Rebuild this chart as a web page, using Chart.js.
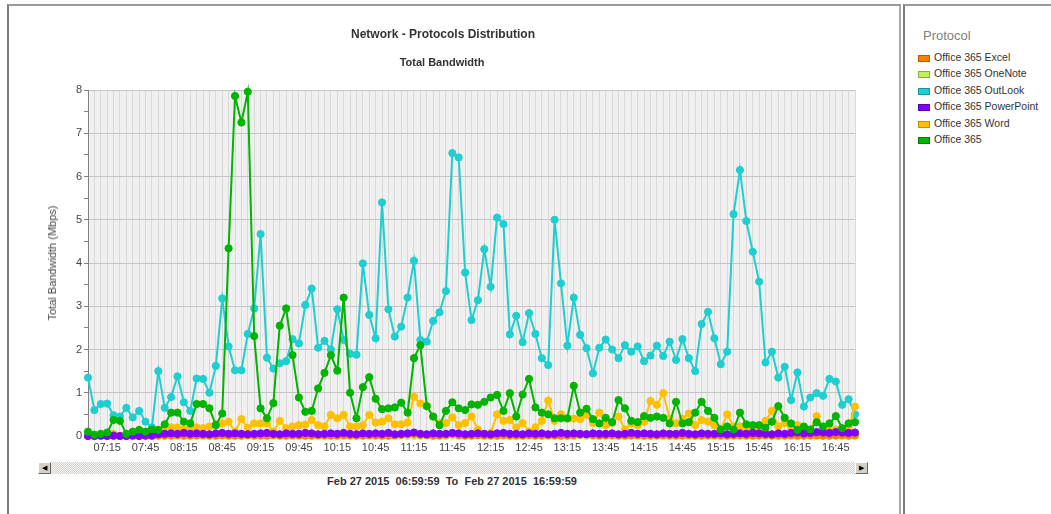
<!DOCTYPE html>
<html>
<head>
<meta charset="utf-8">
<script src="https://cdn.jsdelivr.net/npm/chart.js@4.4.1/dist/chart.umd.min.js"></script>
<style>
  body { margin: 0; background: #fff; width: 1051px; height: 514px; overflow: hidden; position: relative; font-family: "Liberation Sans", Arial, sans-serif; }
  #panel { position: absolute; left: 7px; top: 4px; width: 890px; height: 520px; border-top: 2px solid #9a9a9a; border-left: 2px solid #7c7c7c; border-right: 2px solid #a8a8a8; }
  #legendPanel { position: absolute; left: 903px; top: 4px; width: 160px; height: 520px; border-top: 2px solid #9a9a9a; border-left: 2px solid #7c7c7c; }
  #chartBox { position: absolute; left: 0; top: 0; width: 900px; height: 460px; }
  #bwChart { display: block; }
  .t1 { position: absolute; left: 0; width: 886px; top: 27px; text-align: center; font-weight: bold; font-size: 12px; color: #333; }
  .t2 { position: absolute; left: 0; width: 884px; top: 56px; text-align: center; font-weight: bold; font-size: 11px; color: #333; }
  .ytitle { position: absolute; left: 52px; top: 263px; transform: translate(-50%, -50%) rotate(-90deg); font-size: 11px; color: #444; white-space: nowrap; }
  .range { position: absolute; left: 0; width: 904px; top: 475px; text-align: center; font-weight: bold; font-size: 11px; color: #333; white-space: pre; }
  #scroll { position: absolute; left: 38px; top: 462px; width: 830px; height: 12px; background: repeating-conic-gradient(#d6d3cc 0 25%, #f6f6f6 0 50%) 0 0/2px 2px; }
  .btn { position: absolute; top: 0; width: 11px; height: 10px; background: #d4d0c8; border: 1px solid; border-color: #fff #666 #666 #fff; font-size: 7px; line-height: 10px; text-align: center; color: #000; }
  #legendPanel .title { position: absolute; left: 18px; top: 22px; font-size: 13px; color: #808080; }
  .item { position: absolute; left: 29px; font-size: 10.5px; color: #333; }
  .sw { position: absolute; left: 13px; width: 10px; height: 5px; border: 1px solid; }
</style>
</head>
<body>
<div id="panel"></div>
<div id="legendPanel">
  <div class="title">Protocol</div>
</div>
<div id="chartBox"><canvas id="bwChart" width="900" height="460"></canvas></div>
<div class="t1">Network - Protocols Distribution</div>
<div class="t2">Total Bandwidth</div>
<div class="ytitle">Total Bandwidth (Mbps)</div>
<div id="scroll">
  <div class="btn" style="left:0">&#9664;</div>
  <div class="btn" style="right:0">&#9654;</div>
</div>
<div class="range">Feb 27 2015  06:59:59  To  Feb 27 2015  16:59:59</div>

<script>
// 5 minute samples, 07:00 .. 17:00
const timeLabels = [];
for (let m = 0; m <= 600; m += 5) {
    const h = 7 + Math.floor(m / 60), mm = m % 60;
    timeLabels.push((h < 10 ? "0" : "") + h + ":" + (mm < 10 ? "0" : "") + mm);
}
const shownTicks = ["07:15","07:45","08:15","08:45","09:15","09:45","10:15","10:45","11:15","11:45",
    "12:15","12:45","13:15","13:45","14:15","14:45","15:15","15:45","16:15","16:45"];

const outlook = [1.35,0.60,0.74,0.75,0.48,0.45,0.65,0.43,0.58,0.33,
    0.20,1.50,0.65,0.90,1.38,0.78,0.58,1.33,1.32,1.00,
    1.62,3.18,2.07,1.52,1.52,2.36,2.95,4.67,1.81,1.56,
    1.68,1.73,2.24,2.14,3.03,3.41,2.04,2.20,2.00,2.93,
    2.22,1.90,1.88,3.99,2.80,2.26,5.40,2.93,2.30,2.53,
    3.20,4.05,2.22,2.18,2.66,2.86,3.35,6.54,6.44,3.78,
    2.68,3.14,4.32,3.45,5.05,4.90,2.35,2.78,2.17,2.84,
    2.36,1.80,1.64,5.00,3.53,2.09,3.20,2.34,2.03,1.45,
    2.04,2.23,2.00,1.80,2.10,1.95,2.07,1.73,1.86,2.09,
    1.85,2.18,1.76,2.24,1.80,1.50,2.59,2.87,2.26,1.66,
    1.95,5.13,6.15,4.97,4.26,3.57,1.70,1.95,1.35,1.60,
    0.83,1.47,0.68,0.89,0.99,0.93,1.32,1.26,0.72,0.85,
    0.50];

const office365 = [0.10,0.03,0.05,0.08,0.37,0.35,0.05,0.10,0.14,0.10,
    0.15,0.14,0.27,0.54,0.54,0.33,0.29,0.74,0.74,0.64,
    0.25,0.52,4.34,7.86,7.25,7.96,2.31,0.64,0.41,0.76,
    2.55,2.95,1.87,0.89,0.56,0.58,1.10,1.46,1.87,1.51,
    3.20,1.00,0.41,1.13,1.36,0.86,0.62,0.64,0.66,0.77,
    0.54,1.80,2.10,0.69,0.45,0.25,0.58,0.78,0.64,0.60,
    0.73,0.72,0.79,0.89,0.95,0.58,0.99,0.45,0.96,1.32,
    0.66,0.54,0.50,0.41,0.41,0.41,1.16,0.54,0.63,0.39,
    0.29,0.42,0.32,0.83,0.64,0.35,0.32,0.46,0.42,0.45,
    0.42,0.29,0.79,0.29,0.32,0.54,0.79,0.58,0.42,0.15,
    0.22,0.15,0.54,0.27,0.25,0.25,0.19,0.33,0.69,0.42,
    0.29,0.14,0.22,0.15,0.32,0.22,0.29,0.46,0.18,0.29,
    0.32];

const word = [0.02,0.00,0.03,0.02,0.05,0.00,0.02,0.00,0.03,0.01,
    0.02,0.10,0.12,0.20,0.20,0.15,0.15,0.20,0.18,0.22,
    0.27,0.29,0.33,0.10,0.39,0.19,0.29,0.29,0.29,0.10,
    0.35,0.18,0.22,0.25,0.26,0.37,0.25,0.22,0.49,0.41,
    0.49,0.22,0.22,0.25,0.49,0.31,0.33,0.41,0.27,0.27,
    0.31,0.91,0.75,0.70,0.45,0.30,0.30,0.43,0.25,0.30,
    0.45,0.15,0.05,0.07,0.50,0.35,0.37,0.20,0.30,0.10,
    0.20,0.35,0.82,0.35,0.50,0.40,0.40,0.39,0.49,0.30,
    0.54,0.25,0.30,0.45,0.15,0.29,0.25,0.33,0.81,0.72,
    0.99,0.40,0.29,0.40,0.52,0.25,0.37,0.33,0.25,0.15,
    0.50,0.22,0.22,0.18,0.15,0.15,0.35,0.58,0.22,0.30,
    0.15,0.25,0.12,0.15,0.46,0.20,0.15,0.15,0.10,0.20,
    0.68];

const powerPoint = [0.00,0.00,0.01,0.00,0.01,0.00,0.00,0.01,0.00,0.01,
    0.01,0.04,0.05,0.06,0.05,0.07,0.05,0.06,0.05,0.04,
    0.06,0.07,0.05,0.06,0.05,0.04,0.05,0.06,0.07,0.05,
    0.04,0.06,0.05,0.05,0.07,0.06,0.04,0.05,0.06,0.05,
    0.07,0.05,0.04,0.06,0.05,0.06,0.05,0.07,0.04,0.05,
    0.06,0.08,0.05,0.04,0.06,0.05,0.05,0.07,0.06,0.04,
    0.05,0.06,0.05,0.04,0.06,0.07,0.05,0.05,0.04,0.06,
    0.05,0.06,0.04,0.05,0.07,0.05,0.06,0.05,0.04,0.06,
    0.05,0.05,0.06,0.04,0.05,0.07,0.05,0.06,0.05,0.04,
    0.06,0.05,0.05,0.07,0.05,0.04,0.06,0.05,0.05,0.06,
    0.04,0.05,0.06,0.05,0.07,0.06,0.05,0.04,0.06,0.05,
    0.07,0.08,0.06,0.07,0.09,0.08,0.07,0.09,0.08,0.07,
    0.08];

const excel = [0.00,0.00,0.00,0.00,0.00,0.00,0.00,0.00,0.00,0.00,
    0.00,0.01,0.01,0.01,0.02,0.01,0.01,0.01,0.02,0.01,
    0.01,0.02,0.01,0.01,0.01,0.02,0.01,0.01,0.01,0.02,
    0.01,0.01,0.02,0.01,0.01,0.01,0.02,0.01,0.01,0.01,
    0.02,0.01,0.01,0.01,0.02,0.01,0.01,0.01,0.02,0.03,
    0.04,0.05,0.03,0.02,0.01,0.01,0.03,0.05,0.02,0.01,
    0.01,0.02,0.01,0.01,0.01,0.02,0.01,0.01,0.01,0.02,
    0.01,0.01,0.02,0.01,0.01,0.01,0.02,0.03,0.04,0.02,
    0.01,0.01,0.02,0.01,0.01,0.01,0.02,0.01,0.01,0.01,
    0.02,0.01,0.01,0.01,0.02,0.01,0.01,0.01,0.02,0.01,
    0.01,0.01,0.02,0.01,0.01,0.01,0.02,0.01,0.01,0.01,
    0.02,0.01,0.01,0.01,0.02,0.01,0.01,0.01,0.02,0.01,
    0.02];

const oneNote = [0.00,0.00,0.00,0.00,0.00,0.00,0.00,0.00,0.00,0.00,
    0.00,0.00,0.00,0.01,0.00,0.00,0.00,0.01,0.00,0.00,
    0.00,0.01,0.00,0.00,0.00,0.01,0.00,0.00,0.00,0.01,
    0.00,0.00,0.00,0.01,0.00,0.00,0.00,0.01,0.00,0.00,
    0.00,0.01,0.00,0.00,0.00,0.01,0.00,0.00,0.00,0.01,
    0.00,0.00,0.00,0.01,0.00,0.00,0.00,0.01,0.00,0.00,
    0.00,0.01,0.00,0.00,0.00,0.01,0.00,0.00,0.00,0.01,
    0.00,0.00,0.00,0.01,0.00,0.00,0.00,0.01,0.00,0.00,
    0.00,0.01,0.00,0.00,0.00,0.01,0.00,0.00,0.00,0.01,
    0.00,0.00,0.00,0.01,0.00,0.00,0.00,0.01,0.00,0.00,
    0.00,0.01,0.00,0.00,0.00,0.01,0.00,0.00,0.00,0.01,
    0.00,0.00,0.00,0.01,0.00,0.00,0.00,0.01,0.00,0.00,
    0.00];

const protocolNames = ["Office 365 Excel", "Office 365 OneNote", "Office 365 OutLook",
    "Office 365 PowerPoint", "Office 365 Word", "Office 365"];
const protocolColors = ["#ff7f00", "#bfef5f", "#1fcfcf", "#7f00ff", "#ffc000", "#00b400"];
const protocolBorders = ["#c05a00", "#8aab40", "#159a9a", "#5a00b8", "#c09000", "#008000"];
const protocolData = [excel, oneNote, outlook, powerPoint, word, office365];
// draw order: lower = on top
const drawOrder = [5, 6, 4, 2, 3, 1];

// legend panel
const legendPanel = document.getElementById("legendPanel");
protocolNames.forEach((name, i) => {
    const y = 45 + i * 16.4;
    const sw = document.createElement("div");
    sw.className = "sw";
    sw.style.top = (y + 4) + "px";
    sw.style.background = protocolColors[i];
    sw.style.borderColor = protocolBorders[i];
    legendPanel.appendChild(sw);
    const tx = document.createElement("div");
    tx.className = "item";
    tx.style.top = y + "px";
    tx.textContent = name;
    legendPanel.appendChild(tx);
});

const plotBackground = {
    id: "plotBackground",
    beforeDraw(chart) {
        const a = chart.chartArea, ctx = chart.ctx;
        ctx.save();
        ctx.fillStyle = "#f0f0f0";
        ctx.fillRect(a.left, a.top, a.right - a.left, a.bottom - a.top);
        ctx.restore();
    }
};

const datasets = protocolNames.map((name, i) => ({
    label: name,
    data: protocolData[i],
    borderColor: protocolColors[i],
    backgroundColor: protocolColors[i],
    pointBackgroundColor: protocolColors[i],
    pointBorderColor: protocolColors[i],
    pointRadius: 3.6,
    pointBorderWidth: 1,
    borderWidth: 2,
    tension: 0,
    clip: 6,
    order: drawOrder[i],
}));

new Chart(document.getElementById("bwChart"), {
    type: "line",
    data: { labels: timeLabels, datasets: datasets },
    plugins: [plotBackground],
    options: {
        responsive: false,
        animation: false,
        layout: { padding: { top: 90, right: 45, left: 0, bottom: 0 } },
        plugins: { legend: { display: false }, tooltip: { enabled: false } },
        scales: {
            x: {
                offset: false,
                afterFit(scale) { scale.height = 24; },
                grid: { color: "#d9d9d9", drawTicks: false },
                border: { color: "#c4c4c4" },
                ticks: {
                    autoSkip: false, maxRotation: 0, minRotation: 0, padding: 5,
                    color: "#444", font: { family: "Liberation Sans", size: 11 },
                    callback: function (value) {
                        const lbl = this.getLabelForValue(value);
                        return shownTicks.includes(lbl) ? lbl : "";
                    }
                }
            },
            y: {
                min: 0, max: 8,
                afterFit(scale) { scale.width = 88; },
                grid: {
                    color: ctx => (ctx.tick && Number.isInteger(ctx.tick.value)) ? "#c4c4c4" : "rgba(0,0,0,0)",
                    tickColor: "#808080", tickLength: 4
                },
                border: { color: "#808080" },
                ticks: {
                    stepSize: 0.5, padding: 2, color: "#444",
                    font: { family: "Liberation Sans", size: 11 },
                    callback: v => Number.isInteger(v) ? v : ""
                }
            }
        }
    }
});
</script>
</body>
</html>
